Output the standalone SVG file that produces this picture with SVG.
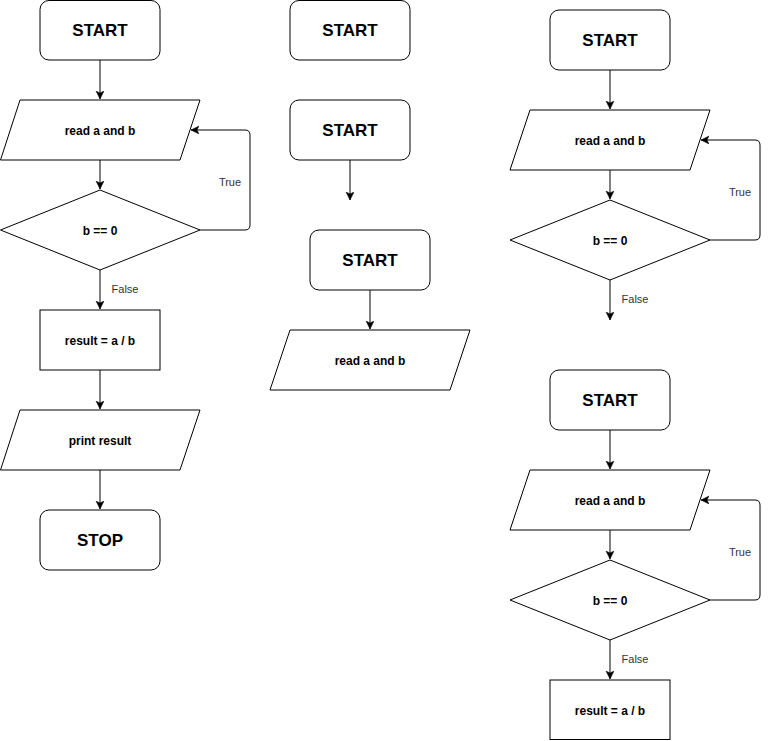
<svg xmlns="http://www.w3.org/2000/svg" width="769" height="741" viewBox="0 0 769 741">
<defs>
<style>
.shape{fill:#ffffff;stroke:#000000;stroke-width:1}
.edge{fill:none;stroke:#000000;stroke-width:1}
.title{font-family:"Liberation Sans",Arial,sans-serif;font-size:17px;font-weight:bold;fill:#000000;text-anchor:middle}
.txt{font-family:"Liberation Sans",Arial,sans-serif;font-size:12px;font-weight:bold;fill:#000000;text-anchor:middle}
.lbl{font-family:"Liberation Sans",Arial,sans-serif;font-size:11px;fill:#333333;text-anchor:middle}
</style>
<marker id="arr" markerWidth="10" markerHeight="10" refX="8" refY="4" orient="auto" markerUnits="userSpaceOnUse">
<path d="M0,0 L8,4 L0,8 L2,4 Z" fill="#000000" stroke="#000000" stroke-width="0.5"/>
</marker>
</defs>
<rect width="769" height="741" fill="#ffffff"/>

<g id="connectors">
<path class="edge" d="M100,60 L100,99" marker-end="url(#arr)"/>
<path class="edge" d="M100,160 L100,189" marker-end="url(#arr)"/>
<path class="edge" d="M200,230 L245,230 Q250,230 250,225 L250,135 Q250,130 245,130 L191,130" marker-end="url(#arr)"/>
<path class="edge" d="M100,270 L100,309" marker-end="url(#arr)"/>
<path class="edge" d="M100,370 L100,409" marker-end="url(#arr)"/>
<path class="edge" d="M100,470 L100,509" marker-end="url(#arr)"/>

<path class="edge" d="M350,160 L350,200" marker-end="url(#arr)"/>
<path class="edge" d="M370,290 L370,329" marker-end="url(#arr)"/>

<path class="edge" d="M610,70 L610,109" marker-end="url(#arr)"/>
<path class="edge" d="M610,170 L610,199" marker-end="url(#arr)"/>
<path class="edge" d="M710,240 L755,240 Q760,240 760,235 L760,145 Q760,140 755,140 L701,140" marker-end="url(#arr)"/>
<path class="edge" d="M610,280 L610,320" marker-end="url(#arr)"/>

<path class="edge" d="M610,430 L610,469" marker-end="url(#arr)"/>
<path class="edge" d="M610,530 L610,559" marker-end="url(#arr)"/>
<path class="edge" d="M710,600 L755,600 Q760,600 760,595 L760,505 Q760,500 755,500 L701,500" marker-end="url(#arr)"/>
<path class="edge" d="M610,640 L610,679" marker-end="url(#arr)"/>

<text class="lbl" x="230" y="185.5">True</text>
<text class="lbl" x="125" y="293">False</text>
<text class="lbl" x="740" y="195.5">True</text>
<text class="lbl" x="635" y="303">False</text>
<text class="lbl" x="740" y="555.5">True</text>
<text class="lbl" x="635" y="663">False</text>
</g>

<g id="start1"><rect class="shape" x="40" y="0.5" width="120" height="59.5" rx="9"/><text class="title" x="100" y="36">START</text></g>
<g id="read1"><path class="shape" d="M20,100 L200,100 L180,160 L0.5,160 Z"/><text class="txt" x="100" y="134.5">read a and b</text></g>
<g id="cond1"><path class="shape" d="M100,190 L200,230 L100,270 L0.5,230 Z"/><text class="txt" x="100" y="234.5">b == 0</text></g>
<g id="result1"><rect class="shape" x="40" y="310" width="120" height="60"/><text class="txt" x="100" y="344.5">result = a / b</text></g>
<g id="print1"><path class="shape" d="M20,410 L200,410 L180,470 L0.5,470 Z"/><text class="txt" x="100" y="444.5">print result</text></g>
<g id="stop1"><rect class="shape" x="40" y="510" width="120" height="60" rx="9"/><text class="title" x="100" y="546">STOP</text></g>

<g id="start2"><rect class="shape" x="290" y="0.5" width="120" height="59.5" rx="9"/><text class="title" x="350" y="36">START</text></g>
<g id="start3"><rect class="shape" x="290" y="100" width="120" height="60" rx="9"/><text class="title" x="350" y="136">START</text></g>
<g id="start4"><rect class="shape" x="310" y="230" width="120" height="60" rx="9"/><text class="title" x="370" y="266">START</text></g>
<g id="read2"><path class="shape" d="M290,330 L470,330 L450,390 L270,390 Z"/><text class="txt" x="370" y="364.5">read a and b</text></g>

<g id="start5"><rect class="shape" x="550" y="10" width="120" height="60" rx="9"/><text class="title" x="610" y="46">START</text></g>
<g id="read3"><path class="shape" d="M530,110 L710,110 L690,170 L510,170 Z"/><text class="txt" x="610" y="144.5">read a and b</text></g>
<g id="cond3"><path class="shape" d="M610,200 L710,240 L610,280 L510,240 Z"/><text class="txt" x="610" y="244.5">b == 0</text></g>

<g id="start6"><rect class="shape" x="550" y="370" width="120" height="60" rx="9"/><text class="title" x="610" y="406">START</text></g>
<g id="read4"><path class="shape" d="M530,470 L710,470 L690,530 L510,530 Z"/><text class="txt" x="610" y="504.5">read a and b</text></g>
<g id="cond4"><path class="shape" d="M610,560 L710,600 L610,640 L510,600 Z"/><text class="txt" x="610" y="604.5">b == 0</text></g>
<g id="result4"><rect class="shape" x="550" y="680" width="120" height="59.5"/><text class="txt" x="610" y="714.5">result = a / b</text></g>
</svg>
